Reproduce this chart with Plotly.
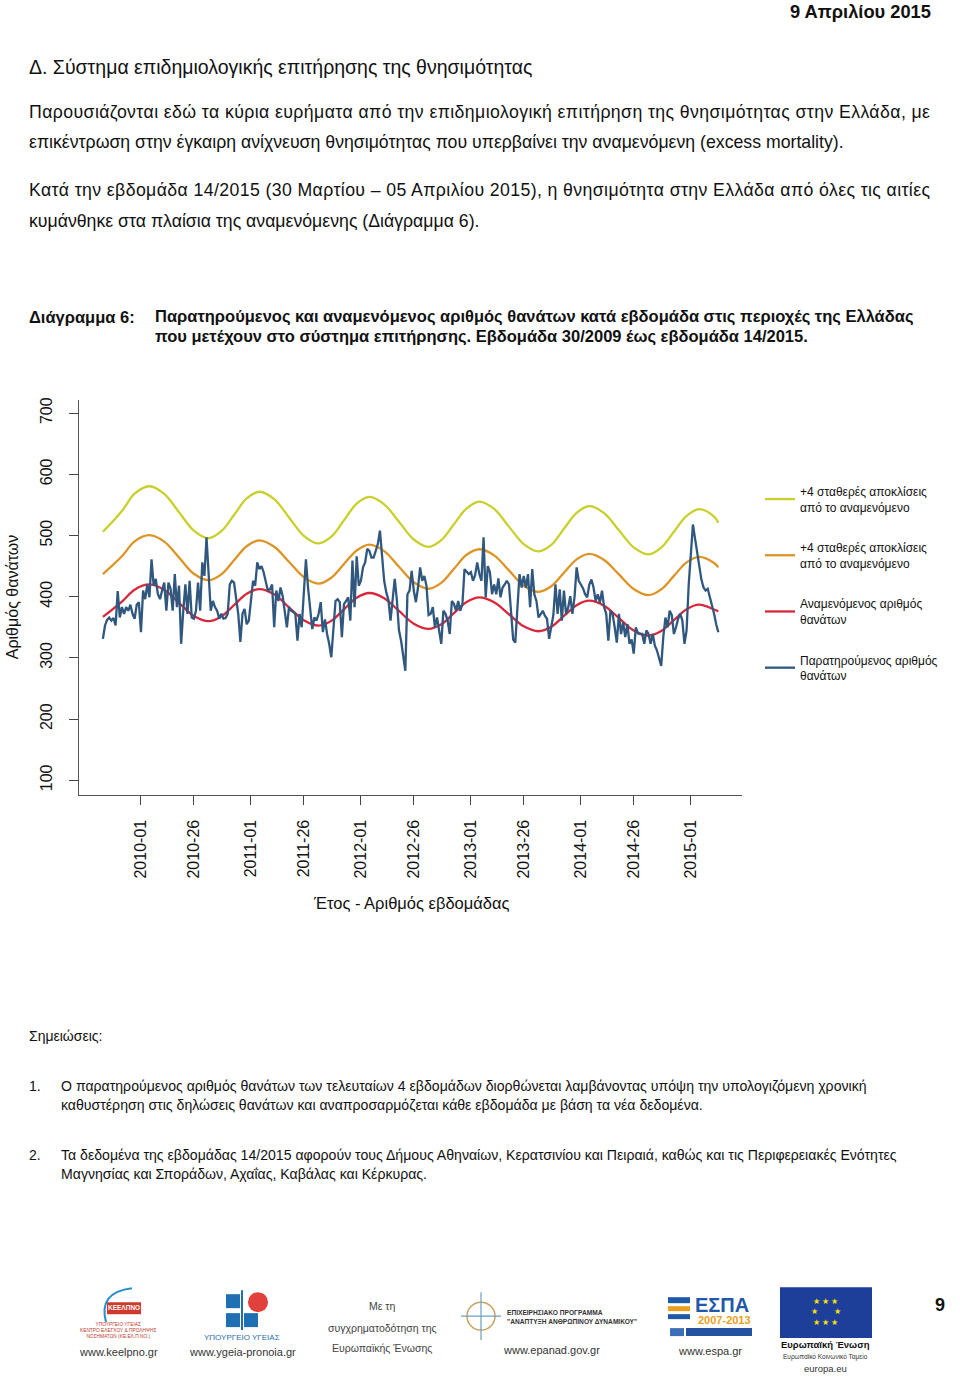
import plotly.graph_objects as go

# ---------------- data ----------------
# week categories: 2009-36 ... 2015-14 (2009 has 53 ISO weeks)
weeks = []
for yr, first, last in [(2009, 36, 53), (2010, 1, 52), (2011, 1, 52), (2012, 1, 52),
                        (2013, 1, 52), (2014, 1, 52), (2015, 1, 14)]:
    for w in range(first, last + 1):
        weeks.append(f"{yr}-{w:02d}")

tick_labels = ["2010-01", "2010-26", "2011-01", "2011-26", "2012-01", "2012-26",
               "2013-01", "2013-26", "2014-01", "2014-26", "2015-01"]

observed = [
    331, 353, 362, 366, 361, 365, 353, 409, 366, 383,
    372, 383, 377, 387, 372, 364, 387, 391, 342, 410,
    396, 420, 399, 461, 418, 429, 404, 396, 410, 423,
    377, 423, 413, 377, 437, 383, 418, 323, 377, 420,
    372, 426, 366, 364, 377, 423, 377, 456, 434, 497,
    437, 377, 393, 383, 377, 364, 372, 364, 365, 372,
    420, 426, 423, 399, 372, 326, 372, 380, 355, 361,
    393, 426, 418, 456, 445, 450, 440, 426, 410, 412,
    420, 350, 410, 393, 415, 401, 377, 350, 383, 377,
    375, 372, 328, 372, 350, 400, 461, 415, 377, 347,
    366, 361, 372, 391, 342, 363, 339, 323, 301, 355,
    393, 396, 391, 334, 388, 393, 399, 361, 459, 383,
    466, 418, 426, 448, 456, 478, 475, 464, 464, 475,
    486, 508, 470, 426, 407, 395, 361, 399, 429, 395,
    345, 328, 307, 279, 404, 410, 442, 410, 391, 415,
    448, 426, 434, 418, 370, 372, 383, 350, 366, 342,
    323, 377, 372, 361, 339, 393, 388, 377, 393, 377,
    388, 445, 440, 437, 440, 426, 435, 456, 437, 426,
    497, 399, 450, 440, 404, 420, 404, 430, 399, 415,
    420, 426, 420, 372, 330, 325, 377, 437, 415, 434,
    415, 437, 383, 445, 404, 393, 366, 372, 377, 369,
    364, 331, 350, 370, 420, 372, 412, 361, 410, 372,
    382, 401, 372, 399, 448, 426, 420, 414, 404, 399,
    420, 428, 415, 393, 404, 390, 410, 383, 372, 328,
    377, 372, 350, 325, 372, 339, 358, 334, 355, 323,
    330, 307, 350, 340, 339, 339, 323, 345, 339, 323,
    339, 320, 312, 301, 287, 335, 366, 350, 377, 370,
    339, 350, 364, 372, 361, 323, 345, 420, 465, 518,
    495, 470, 448, 428, 415, 410, 413, 400, 385, 372,
    355, 342,
]

curve_weeks = ["2009-36", "2009-45", "2009-51"]
for yr in [2010, 2011, 2012, 2013, 2014]:
    curve_weeks += [f"{yr}-{w:02d}" for w in (5, 12, 19, 26, 33, 39, 45, 51)]
curve_weeks += ["2015-05", "2015-12", "2015-14"]

expected = [367, 392, 411.5,
            420, 411, 390, 368.5, 360, 367.7, 386.2, 404.8,
            412.5, 403.8, 382.6, 361.4, 352.7, 360.5, 379.4, 398.2,
            406, 397.4, 376.7, 355.9, 347.3, 354.8, 373.2, 391.5,
            399, 390.9, 371.3, 351.6, 343.5, 350.8, 368.5, 386.2,
            393.5, 385.2, 365, 344.7, 336.4, 343.8, 361.7, 379.6,
            387, 379, 376]
upper_orange = [437, 466, 490.5,
                500.5, 490, 464, 437.5, 427, 436.5, 459.5, 482.5,
                492, 481.5, 457, 432, 421.5, 431, 453.5, 475.5,
                485, 474.5, 449, 423.5, 413, 422.5, 445.5, 468.5,
                477.5, 467.5, 443, 418, 408, 417, 439, 461,
                470, 460, 436.5, 412.5, 402.5, 412, 434, 456,
                465, 455, 448]
upper_yellow = [506, 540, 568.5,
                580.5, 568, 538, 508, 495.5, 507, 533.5, 560.5,
                571.5, 559.5, 529.5, 499.5, 487, 498, 525, 552,
                563, 551, 522.5, 493.5, 481.5, 492.5, 518.5, 544.5,
                555.5, 543.5, 514.5, 486, 474, 484.5, 511, 537,
                548, 536.5, 508.5, 480.5, 469, 480, 506, 532,
                543, 531, 521]

legend_names = ["+4 σταθερές αποκλίσεις<br>από το αναμενόμενο",
                "+4 σταθερές αποκλίσεις<br>από το αναμενόμενο",
                "Αναμενόμενος αριθμός<br>θανάτων",
                "Παρατηρούμενος αριθμός<br>θανάτων"]

# ---------------- page geometry helpers ----------------
W, H = 960, 1379
def px(x):
    return x / W
def py(y):
    return 1 - y / H

SANS = "Liberation Sans, Arial, sans-serif"

fig = go.Figure()
line_w = 2.3
for name, ys, col, grp in [(legend_names[0], upper_yellow, "#C9D02C", "y"),
                           (legend_names[1], upper_orange, "#DC9424", "o"),
                           (legend_names[2], expected, "#D9273B", "r")]:
    fig.add_trace(go.Scatter(x=curve_weeks, y=ys, mode="lines", name=name,
                             line=dict(color=col, width=line_w, shape="spline", smoothing=1.0),
                             legendgroup=grp))
fig.add_trace(go.Scatter(x=weeks, y=observed, mode="lines", name=legend_names[3],
                         line=dict(color="#30587F", width=line_w), legendgroup="b"))

x0, x1 = 79, 742
y0, y1 = 398, 794
fig.update_layout(
    width=W, height=H,
    margin=dict(l=0, r=0, t=0, b=0),
    paper_bgcolor="white", plot_bgcolor="white",
    showlegend=True,
    legend=dict(x=px(760), y=py(475), xanchor="left", yanchor="top",
                font=dict(family=SANS, size=12, color="#111"),
                traceorder="grouped", tracegroupgap=22, bgcolor="rgba(0,0,0,0)",
                itemwidth=30),
    xaxis=dict(domain=[px(x0), px(x1)], type="category", categoryorder="array",
               categoryarray=weeks, range=[-11.3, 302.2],
               tickmode="array", tickvals=tick_labels, ticktext=tick_labels,
               tickangle=-90, ticks="outside", ticklen=9, tickwidth=1.3, tickcolor="#444",
               showline=True, linecolor="#555", linewidth=1.3, showgrid=False, zeroline=False,
               tickfont=dict(family=SANS, size=16, color="#111"), ticklabelstandoff=8),
    yaxis=dict(domain=[py(y1), py(y0)], range=[75.5, 721.2],
               tickmode="array", tickvals=[100, 200, 300, 400, 500, 600, 700],
               tickangle=-90, ticks="outside", ticklen=9, tickwidth=1.3, tickcolor="#444",
               showline=True, linecolor="#555", linewidth=1.3, showgrid=False, zeroline=False,
               tickfont=dict(family=SANS, size=16, color="#111"), ticklabelstandoff=10),
)

ann = []
DY = -2.5
def text(x, y, s, size=14, color="#111", anchor="left", bold=False, angle=0):
    if bold:
        s = "<b>" + s + "</b>"
    ann.append(dict(x=px(x), y=py(y + DY), xref="paper", yref="paper", text=s, showarrow=False,
                    xanchor=anchor, yanchor="middle", textangle=angle,
                    align="left" if anchor == "left" else "center",
                    font=dict(family=SANS, size=size, color=color)))

# header & body
text(933, 11, "9 Απριλίου 2015", size=18.3, anchor="right", bold=True)
text(27, 67, "Δ. Σύστημα επιδημιολογικής επιτήρησης της θνησιμότητας", size=19.5)
text(27, 112, "Παρουσιάζονται εδώ τα κύρια ευρήματα από την επιδημιολογική επιτήρηση της θνησιμότητας στην Ελλάδα, με", size=17.7)
text(27, 142, "επικέντρωση στην έγκαιρη ανίχνευση θνησιμότητας που υπερβαίνει την αναμενόμενη (excess mortality).", size=17.7)
text(27, 190, "Κατά την εβδομάδα 14/2015 (30 Μαρτίου – 05 Απριλίου 2015), η θνησιμότητα στην Ελλάδα από όλες τις αιτίες", size=17.7)
text(27, 221, "κυμάνθηκε στα πλαίσια της αναμενόμενης (Διάγραμμα 6).", size=17.7)

text(27, 317, "Διάγραμμα 6:", size=16.5, bold=True)
text(153, 317, "Παρατηρούμενος και αναμενόμενος αριθμός θανάτων κατά εβδομάδα στις περιοχές της Ελλάδας", size=16.5, bold=True)
text(153, 337, "που μετέχουν στο σύστημα επιτήρησης. Εβδομάδα 30/2009 έως εβδομάδα 14/2015.", size=16.5, bold=True)

# axis titles
text(12, 598, "Αριθμός θανάτων", size=16, anchor="center", angle=-90)
text(411, 904, "Έτος - Αριθμός εβδομάδας", size=16.5, anchor="center")

# notes
text(27, 1038, "Σημειώσεις:", size=14)
text(27, 1088, "1.", size=14)
text(59, 1088, "Ο παρατηρούμενος αριθμός θανάτων των τελευταίων 4 εβδομάδων διορθώνεται λαμβάνοντας υπόψη την υπολογιζόμενη χρονική", size=14.1)
text(59, 1107, "καθυστέρηση στις δηλώσεις θανάτων και αναπροσαρμόζεται κάθε εβδομάδα με βάση τα νέα δεδομένα.", size=14.1)
text(27, 1157, "2.", size=14)
text(59, 1157, "Τα δεδομένα της εβδομάδας 14/2015 αφορούν τους Δήμους Αθηναίων, Κερατσινίου και Πειραιά, καθώς και τις Περιφερειακές Ενότητες", size=14.1)
text(59, 1176, "Μαγνησίας και Σποράδων, Αχαΐας, Καβάλας και Κέρκυρας.", size=14.1)

# footer logos (approximations)
text(118, 1354, "www.keelpno.gr", size=11, anchor="center", color="#333")
text(118, 1333, "ΥΠΟΥΡΓΕΙΟ ΥΓΕΙΑΣ<br>ΚΕΝΤΡΟ ΕΛΕΓΧΟΥ & ΠΡΟΛΗΨΗΣ<br>ΝΟΣΗΜΑΤΩΝ (ΚΕ.ΕΛ.Π.ΝΟ.)", size=4.8, anchor="center", color="#C0392B")
text(124, 1310, "ΚΕΕΛΠΝΟ", size=6.5, anchor="center", color="white", bold=True)
text(242, 1354, "www.ygeia-pronoia.gr", size=11, anchor="center", color="#333")
text(242, 1340, "ΥΠΟΥΡΓΕΙΟ ΥΓΕΙΑΣ", size=8, anchor="center", color="#1F6FB2")
text(382, 1308, "Με τη", size=10.5, anchor="center", color="#444")
text(382, 1330, "συγχρηματοδότηση της", size=10.5, anchor="center", color="#444")
text(382, 1350, "Ευρωπαϊκής Ένωσης", size=10.5, anchor="center", color="#444")
text(505, 1319, "ΕΠΙΧΕΙΡΗΣΙΑΚΟ ΠΡΟΓΡΑΜΜΑ<br>\"ΑΝΑΠΤΥΞΗ ΑΝΘΡΩΠΙΝΟΥ ΔΥΝΑΜΙΚΟΥ\"", size=6.6, anchor="left", color="#333", bold=True)
text(551, 1352, "www.epanad.gov.gr", size=11, anchor="center", color="#333")
text(722, 1307, "ΕΣΠΑ", size=20, anchor="center", color="#1E5AA8", bold=True)
text(724, 1322, "2007-2013", size=11, anchor="center", color="#E8A020", bold=True)
text(710, 1353, "www.espa.gr", size=11, anchor="center", color="#333")
text(825, 1347, "Ευρωπαϊκή Ένωση", size=9.5, anchor="center", color="#111", bold=True)
text(825, 1359, "Ευρωπαϊκό Κοινωνικό Ταμείο", size=6.5, anchor="center", color="#333")
text(825, 1371, "europa.eu", size=9.5, anchor="center", color="#333")
text(826, 1314, "★ ★ ★<br>★       ★<br>★ ★ ★", size=8, anchor="center", color="#FFE000")
text(940, 1307, "9", size=18, anchor="center", bold=True)

def rect(xa, xb, ya, yb, col):
    return dict(type="rect", xref="paper", yref="paper", x0=px(xa), x1=px(xb),
                y0=py(yb), y1=py(ya), fillcolor=col, line=dict(width=0), layer="below")

shapes = [
    rect(780, 872, 1287, 1338, "#1D3F9A"),
    rect(107, 141, 1302, 1314, "#D03A2C"),
    dict(type="path", xref="paper", yref="paper",
         path=f"M {px(132)},{py(1288)} Q {px(98)},{py(1292)} {px(106)},{py(1322)}",
         line=dict(color="#2A8BD0", width=2), layer="below"),
    # ministry cross & heart
    rect(226, 240, 1294, 1308, "#1F6FB2"),
    rect(226, 240, 1313, 1327, "#1F6FB2"),
    rect(244, 258, 1313, 1327, "#1F6FB2"),
    dict(type="circle", xref="paper", yref="paper", x0=px(248), x1=px(268), y0=py(1312), y1=py(1292),
         fillcolor="#E2403A", line=dict(width=0), layer="below"),
    dict(type="line", xref="paper", yref="paper", x0=px(242), x1=px(242), y0=py(1330), y1=py(1290),
         line=dict(color="#1F6FB2", width=2), layer="below"),
    # epanad compass
    dict(type="circle", xref="paper", yref="paper", x0=px(467), x1=px(495), y0=py(1330), y1=py(1302),
         line=dict(color="#C9A060", width=1.5), layer="below"),
    dict(type="line", xref="paper", yref="paper", x0=px(481), x1=px(481), y0=py(1340), y1=py(1292),
         line=dict(color="#6A9FBF", width=1.2), layer="below"),
    dict(type="line", xref="paper", yref="paper", x0=px(461), x1=px(501), y0=py(1316), y1=py(1316),
         line=dict(color="#6A9FBF", width=1.2), layer="below"),
    # ESPA waves & flag bar
    rect(668, 690, 1297, 1303, "#1E5AA8"),
    rect(668, 690, 1306, 1311, "#E8A020"),
    rect(668, 690, 1314, 1319, "#1E5AA8"),
    rect(670, 684, 1328, 1336, "#3B6FB6"),
    rect(686, 752, 1328, 1336, "#2452A0"),
]

fig.update_layout(annotations=ann, shapes=shapes)

post = """
document.body.style.margin = '0px';
document.body.style.padding = '0px';
var targets = [
  ['Παρουσιάζονται', 901],
  ['Κατά την', 901]
];
document.querySelectorAll('.annotation-text').forEach(function (t) {
  var s = t.textContent || '';
  targets.forEach(function (p) {
    if (s.indexOf(p[0]) === 0) {
      t.setAttribute('textLength', p[1]);
      t.setAttribute('lengthAdjust', 'spacing');
    }
  });
});
"""
fig.write_html("out.html", post_script=post, config={"displayModeBar": False})
